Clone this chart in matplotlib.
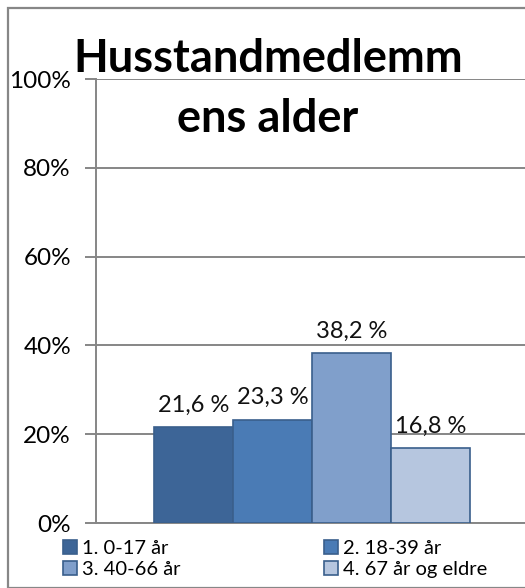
import matplotlib.pyplot as plt
from matplotlib.patches import Rectangle

plt.rcParams['font.family'] = ['Lato', 'DejaVu Sans']

categories = ["1. 0-17 år", "2. 18-39 år", "3. 40-66 år", "4. 67 år og eldre"]
values = [21.6, 23.3, 38.2, 16.8]
labels = ["21,6 %", "23,3 %", "38,2 %", "16,8 %"]
colors = ["#3D6597", "#4A7BB5", "#809FCB", "#B6C6DF"]
yticks = [0, 20, 40, 60, 80, 100]

W, H = 525, 588
fig = plt.figure(figsize=(W / 100, H / 100), dpi=100)

# outer chart border
fig.patches.append(Rectangle((8 / W, 0), 1.2, 1 - 8 / H, transform=fig.transFigure,
                             fill=False, edgecolor="#878787", linewidth=1.6))

ax = fig.add_axes([96 / W, 1 - 523 / H, 432 / W, 444 / H])
x = list(range(len(values)))
bars = ax.bar(x, values, width=1.0, color=colors, edgecolor="#3A5F8C", linewidth=1.2, zorder=3)

for xi, v, lab in zip(x, values, labels):
    ax.text(xi, v + 2.6, lab, ha="center", va="bottom", fontsize=17, color="#111111")

ax.set_xlim(-1.234, 4.234)
ax.set_ylim(0, 100)
ax.set_yticks(yticks)
ax.set_yticklabels([f"{t}%" for t in yticks], fontsize=17.5)
ax.set_xticks([])
ax.grid(axis="y", color="#868686", linewidth=1.4, zorder=0)
for s in ["top", "right"]:
    ax.spines[s].set_visible(False)
for s in ["left", "bottom"]:
    ax.spines[s].set_color("#868686")
    ax.spines[s].set_linewidth(1.4)
ax.tick_params(axis="y", length=8, width=1.4, color="#868686", pad=10)

fig.text(268 / W, 1 - 89 / H, "Husstandmedlemm\nens alder", ha="center", va="center",
         fontsize=32.5, fontweight="bold", linespacing=1.55)

order = [0, 2, 1, 3]
leg = fig.legend([bars[i] for i in order], [categories[i] for i in order], ncol=2,
                 loc="upper left", bbox_to_anchor=(53 / W, 1 - 530 / H), frameon=False,
                 fontsize=14.5, handlelength=0.7, handleheight=0.7, handletextpad=0.25,
                 columnspacing=7.1, labelspacing=0.2, borderpad=0)

fig.savefig("out.png", dpi=100)
